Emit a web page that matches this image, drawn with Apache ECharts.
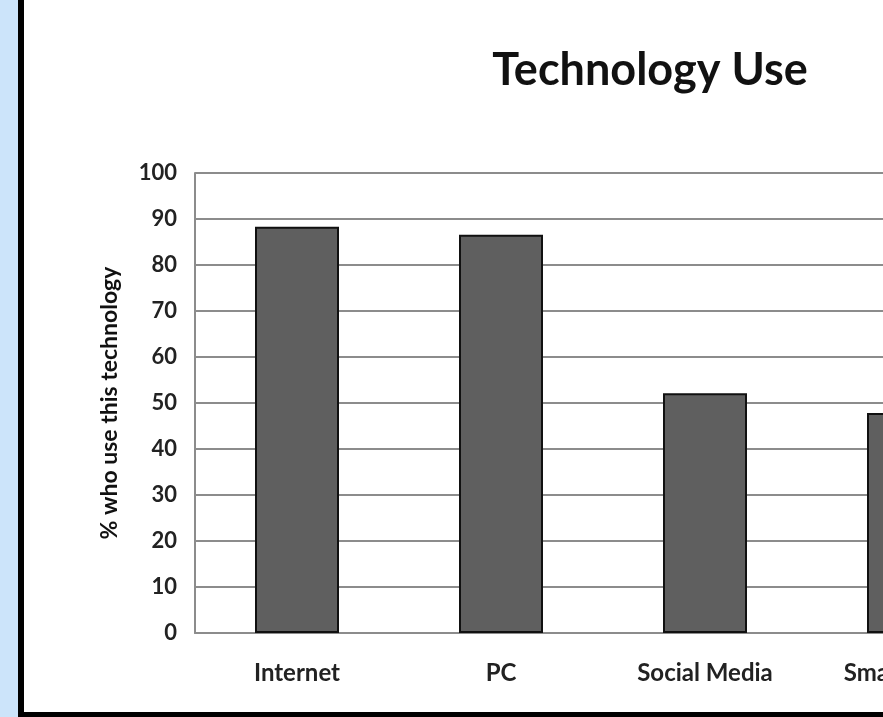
<!DOCTYPE html>
<html>
<head>
<meta charset="utf-8">
<script src="https://cdn.jsdelivr.net/npm/echarts@6/dist/echarts.min.js"></script>
<style>
  html, body { margin: 0; padding: 0; width: 883px; height: 717px; overflow: hidden; background: #ffffff; }
  #strip { position: absolute; left: 0; top: 0; width: 18px; height: 717px; background: #cce4fa; }
  #frame { position: absolute; left: 18px; top: -20px; width: 1400px; height: 732px; border-left: 6px solid #000; border-bottom: 5px solid #000; background: #fff; }
  #chart { position: absolute; left: 0; top: 0; width: 1300px; height: 717px; }
</style>
</head>
<body>
<div id="strip"></div>
<div id="frame"></div>
<div id="chart"></div>
<script>
const titleText = 'Technology Use';
const yAxisName = '% who use this technology';
const categories = ['Internet', 'PC', 'Social Media', 'Smartphone'];
const values = [88.3, 86.6, 52.1, 47.8];
const yMin = 0, yMax = 100, yStep = 10;

const chart = echarts.init(document.getElementById('chart'), null, { renderer: 'canvas' });
const font = 'Lato, "Open Sans", sans-serif';
chart.setOption({
  backgroundColor: 'transparent',
  animation: false,
  title: {
    text: titleText,
    left: 'center',
    top: 43,
    textStyle: { fontFamily: font, fontWeight: 'bold', fontSize: 45, color: '#111' }
  },
  grid: { left: 195, top: 173, width: 816, height: 460, containLabel: false },
  xAxis: {
    type: 'category',
    data: categories,
    axisLine: { show: true, lineStyle: { color: '#8c8c8c', width: 2 } },
    axisTick: { show: false },
    axisLabel: { margin: 28, fontFamily: font, fontWeight: 'bold', fontSize: 24, color: '#222' },
    splitLine: { show: false }
  },
  yAxis: {
    type: 'value',
    min: yMin, max: yMax, interval: yStep,
    name: yAxisName,
    nameLocation: 'middle',
    nameRotate: 90,
    nameGap: 74,
    nameTextStyle: { fontFamily: font, fontWeight: 'bold', fontSize: 23, color: '#111' },
    axisLine: { show: true, lineStyle: { color: '#8c8c8c', width: 2 } },
    axisTick: { show: false },
    axisLabel: { margin: 18, fontFamily: font, fontWeight: 'bold', fontSize: 22, color: '#222' },
    splitLine: { show: true, lineStyle: { color: '#8c8c8c', width: 2 } }
  },
  series: [{
    type: 'bar',
    data: values,
    barWidth: 84,
    itemStyle: { color: '#5f5f5f', borderColor: '#111', borderWidth: 2 }
  }]
});
</script>
</body>
</html>
